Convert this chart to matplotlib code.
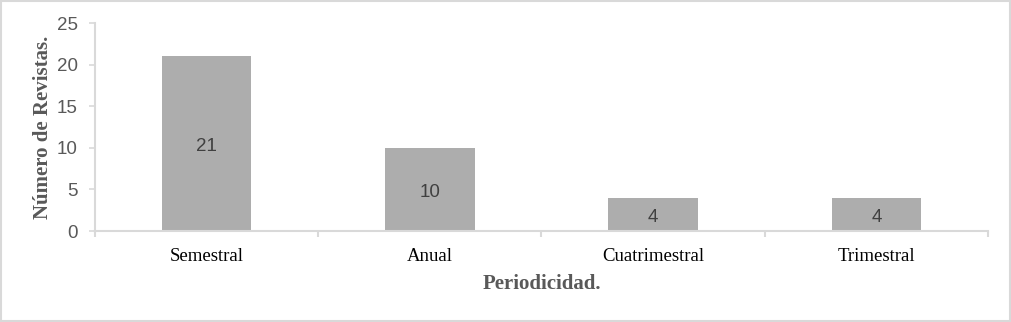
import matplotlib
matplotlib.use("Agg")
import matplotlib.pyplot as plt
from matplotlib.patches import Rectangle

categories = ["Semestral", "Anual", "Cuatrimestral", "Trimestral"]
values = [21, 10, 4, 4]
yticks = [0, 5, 10, 15, 20, 25]

fig = plt.figure(figsize=(10.12, 3.22), dpi=100)
ax = fig.add_axes([95/1012, 1-231/322, (988-95)/1012, (231-23)/322])

x = list(range(len(categories)))
bars = ax.bar(x, values, width=0.4, color="#ADADAD", zorder=2)
for xi, v in zip(x, values):
    ax.annotate(str(v), xy=(xi, v/2), xytext=(0, -2), textcoords="offset points",
                ha="center", va="center", fontsize=13.5,
                family="Liberation Sans", color="#404040")

ax.set_xlim(-0.5, len(categories)-0.5)
ax.set_ylim(0, 25)
ax.set_yticks(yticks)
ax.set_yticklabels([str(t) for t in yticks], family="Liberation Sans", fontsize=13.5, color="#595959")
ax.set_xticks(x)
ax.set_xticklabels(categories, family="Liberation Serif", fontsize=13.5, color="black")
ax.tick_params(axis="x", length=0, pad=12)
ax.set_xticks([i - 0.5 for i in range(len(categories)+1)], minor=True)
ax.tick_params(axis="x", which="minor", length=4.3, color="#D9D9D9", width=1.5)
ax.tick_params(axis="y", length=4.3, color="#D9D9D9", width=1.2, pad=8)

for s in ["top", "right"]:
    ax.spines[s].set_visible(False)
for s in ["left", "bottom"]:
    ax.spines[s].set_color("#D9D9D9")
    ax.spines[s].set_linewidth(1.5)

ax.set_xlabel("Periodicidad.", family="Liberation Serif", fontsize=15,
              fontweight="bold", color="#595959", labelpad=7)
ax.set_ylabel("Número de Revistas.", family="Liberation Serif", fontsize=15,
              fontweight="bold", color="#595959", labelpad=3)

fig.patches.append(Rectangle((0.001, 0.002), 0.997, 0.995, transform=fig.transFigure,
                             fill=False, edgecolor="#D9D9D9", linewidth=1.5))
fig.savefig("out.png", dpi=100)
